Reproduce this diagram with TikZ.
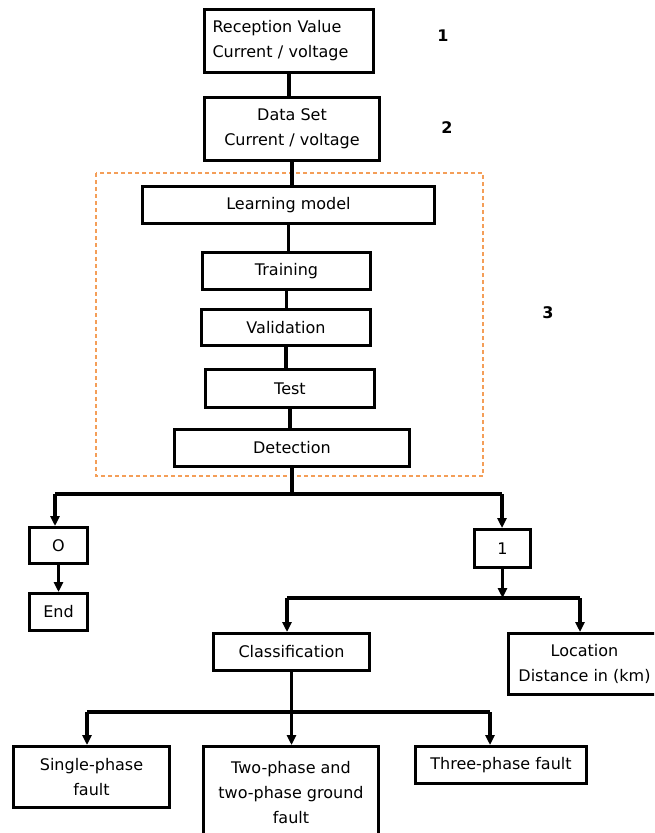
\documentclass[tikz,border=0pt]{standalone}
\usepackage{fontspec}
\setmainfont{DejaVu Sans}
\usetikzlibrary{arrows.meta}
\definecolor{frameorange}{RGB}{244,158,88}
\begin{document}
\begin{tikzpicture}[x=1pt,y=-1pt,
  box/.style={draw,line width=3pt,anchor=north west,inner sep=0pt,align=center,
    font=\fontsize{16}{25}\selectfont},
  link/.style={line width=3.5pt},
  arr/.style={link,-{Triangle[length=10pt,width=9pt]}},
  tag/.style={font=\fontsize{16}{18}\selectfont\bfseries}]
\useasboundingbox (0,0) rectangle (654,833);
\clip (0,0) rectangle (654,833);

% dashed frame around the learning stages
\draw[frameorange,line width=1.2pt,dash pattern=on 4pt off 3pt] (96,173) rectangle (483,476);

% main column
\node[box,minimum width=169pt,minimum height=63pt,text width=153pt,align=left] (rv) at (203,8) {Reception Value\\Current / voltage};
\node[box,minimum width=175pt,minimum height=63pt] (ds) at (203,96) {Data Set\\Current / voltage};
\node[box,minimum width=292pt,minimum height=37pt] (lm) at (141,185) {Learning model};
\node[box,minimum width=168pt,minimum height=37pt] (tr) at (201,251) {Training};
\node[box,minimum width=169pt,minimum height=36pt] (va) at (200,308) {Validation};
\node[box,minimum width=169pt,minimum height=38pt] (te) at (204,368) {Test};
\node[box,minimum width=235pt,minimum height=37pt] (de) at (173,428) {Detection};

% step numbers
\node[tag] (n1) at (443,36) {1};
\node[tag] (n2) at (447,128) {2};
\node[tag] (n3) at (548,313) {3};

% decision outputs
\node[box,minimum width=58pt,minimum height=36pt] (o) at (28,526) {O};
\node[box,minimum width=58pt,minimum height=37pt] (en) at (28,592) {End};
\node[box,minimum width=56pt,minimum height=38pt] (one) at (473,528) {1};
\node[box,minimum width=156pt,minimum height=37pt] (cl) at (212,632) {Classification};
\node[box,minimum width=152pt,minimum height=61pt] (lo) at (507,632) {Location\\Distance in (km)};

% fault types
\node[box,minimum width=156pt,minimum height=61pt] (sp) at (12,745) {Single-phase\\fault};
\node[box,minimum width=175pt,minimum height=92pt] (tp) at (202,745) {Two-phase and\\two-phase ground\\fault};
\node[box,minimum width=171pt,minimum height=37pt] (th) at (414,745) {Three-phase fault};

% plain links between stages
\draw[link] (rv.south) -- (rv.south |- ds.north);
\draw[link] (ds.south) -- (ds.south |- lm.north);
\draw[link] (lm.south) -- (lm.south |- tr.north);
\draw[link] (tr.south) -- (tr.south |- va.north);
\draw[link] (va.south) -- (va.south |- te.north);
\draw[link] (te.south) -- (te.south |- de.north);

% detection branch
\coordinate (b0) at (290,494);
\coordinate (bL) at (55,494);
\coordinate (bR) at (502,494);
\draw[link] (de.south) -- (de.south |- b0);
\draw[link] (bL) -- (bR);
\draw[arr] (bL) -- (bL |- o.north);
\draw[arr] (bR) -- (bR |- one.north);
\draw[arr] (o.south) -- (o.south |- en.north);

% fault branch
\coordinate (c0) at (500,598);
\coordinate (cL) at (287,598);
\coordinate (cR) at (580,598);
\draw[arr] (one.south) -- (one.south |- c0);
\draw[link] (cL) -- (cR);
\draw[arr] (cL) -- (cL |- cl.north);
\draw[arr] (cR) -- (cR |- lo.north);

% classification branch
\coordinate (d0) at (289,712);
\coordinate (dL) at (87,712);
\coordinate (dR) at (490,712);
\draw[link] (cl.south) -- (cl.south |- d0);
\draw[link] (dL) -- (dR);
\draw[arr] (dL) -- (dL |- sp.north);
\draw[arr] (cl.south |- d0) -- (cl.south |- tp.north);
\draw[arr] (dR) -- (dR |- th.north);
\end{tikzpicture}
\end{document}
